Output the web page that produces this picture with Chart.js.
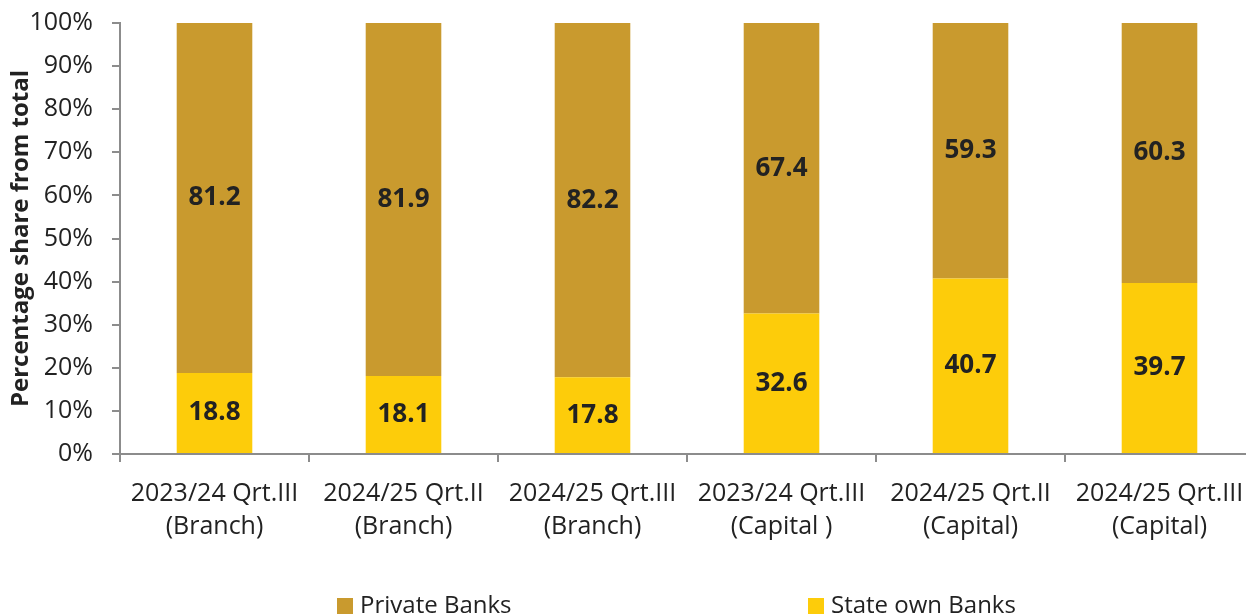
<!DOCTYPE html>
<html>
<head>
<meta charset="utf-8">
<script src="https://cdn.jsdelivr.net/npm/chart.js@4"></script>
<style>
  body { margin: 0; overflow: hidden; background: #fff; width: 1246px; height: 616px; position: relative; }
  #wrap { position: absolute; left: 0; top: 0; width: 1262px; height: 616px; }
  .leg { position: absolute; top: 587px; font-family: "Open Sans", sans-serif; font-size: 24px; color: #222; white-space: nowrap; }
  .leg span.box { display: inline-block; width: 16px; height: 16px; margin-right: 7px; vertical-align: -1px; }
</style>
</head>
<body>
<div id="wrap"><canvas id="canvas1" width="1262" height="616"></canvas></div>
<div class="leg" style="left:337px"><span class="box" style="background:#C99A2E"></span>Private Banks</div>
<div class="leg" style="left:808px"><span class="box" style="background:#FDCC0A"></span>State own Banks</div>
<script>
const categories = [
    ['2023/24 Qrt.III', '(Branch)'],
    ['2024/25 Qrt.II', '(Branch)'],
    ['2024/25 Qrt.III', '(Branch)'],
    ['2023/24 Qrt.III', '(Capital )'],
    ['2024/25 Qrt.II', '(Capital)'],
    ['2024/25 Qrt.III', '(Capital)']
];
const stateOwnBanks = [18.8, 18.1, 17.8, 32.6, 40.7, 39.7];
const privateBanks = [81.2, 81.9, 82.2, 67.4, 59.3, 60.3];
const yTicks = [0, 10, 20, 30, 40, 50, 60, 70, 80, 90, 100];

const fontFamily = '"Open Sans", sans-serif';
const axisColor = '#8c8c8c';

// draws the numbers in the middle of each bar segment
const valueLabels = {
    id: 'valueLabels',
    afterDatasetsDraw(chart) {
        const ctx = chart.ctx;
        ctx.save();
        ctx.font = 'bold 26px ' + fontFamily;
        ctx.fillStyle = '#222';
        ctx.textAlign = 'center';
        ctx.textBaseline = 'middle';
        chart.data.datasets.forEach((ds, i) => {
            chart.getDatasetMeta(i).data.forEach((bar, j) => {
                ctx.fillText(ds.data[j].toFixed(1), bar.x, (bar.y + bar.base) / 2);
            });
        });
        ctx.restore();
    }
};

new Chart(document.getElementById('canvas1'), {
    type: 'bar',
    data: {
        labels: categories,
        datasets: [
            {
                label: 'State own Banks',
                data: stateOwnBanks,
                backgroundColor: '#FDCC0A',
                categoryPercentage: 1,
                barPercentage: 0.4
            },
            {
                label: 'Private Banks',
                data: privateBanks,
                backgroundColor: '#C99A2E',
                categoryPercentage: 1,
                barPercentage: 0.4
            }
        ]
    },
    options: {
        responsive: false,
        animation: false,
        layout: { padding: { top: 23, right: 8, left: 0, bottom: 0 } },
        plugins: {
            legend: { display: false },
            tooltip: { enabled: false }
        },
        scales: {
            x: {
                stacked: true,
                grid: { offset: true, drawOnChartArea: false, drawTicks: true, tickLength: 8, color: axisColor, lineWidth: 2 },
                border: { color: axisColor, width: 2 },
                ticks: {
                    color: '#222',
                    padding: 15,
                    maxRotation: 0,
                    autoSkip: false,
                    font: { family: fontFamily, size: 25, lineHeight: 1.33 }
                },
                afterFit: scale => { scale.height = 616 - 454; scale.paddingLeft = 0; scale.paddingRight = 0; }
            },
            y: {
                stacked: true,
                min: 0,
                max: 100,
                afterBuildTicks: scale => { scale.ticks = yTicks.map(v => ({ value: v })); },
                grid: { drawOnChartArea: false, drawTicks: true, tickLength: 8, color: axisColor, lineWidth: 2 },
                border: { color: axisColor, width: 2 },
                ticks: {
                    color: '#222',
                    padding: 19,
                    callback: value => `${value}%`,
                    font: { family: fontFamily, size: 25 }
                },
                title: {
                    display: true,
                    text: 'Percentage share from total',
                    color: '#222',
                    padding: { top: 7, bottom: 0 },
                    font: { family: fontFamily, size: 24, weight: 'bold' }
                },
                afterFit: scale => { scale.width = 120; scale.paddingTop = 0; scale.paddingBottom = 0; }
            }
        }
    },
    plugins: [valueLabels]
});
</script>
</body>
</html>
